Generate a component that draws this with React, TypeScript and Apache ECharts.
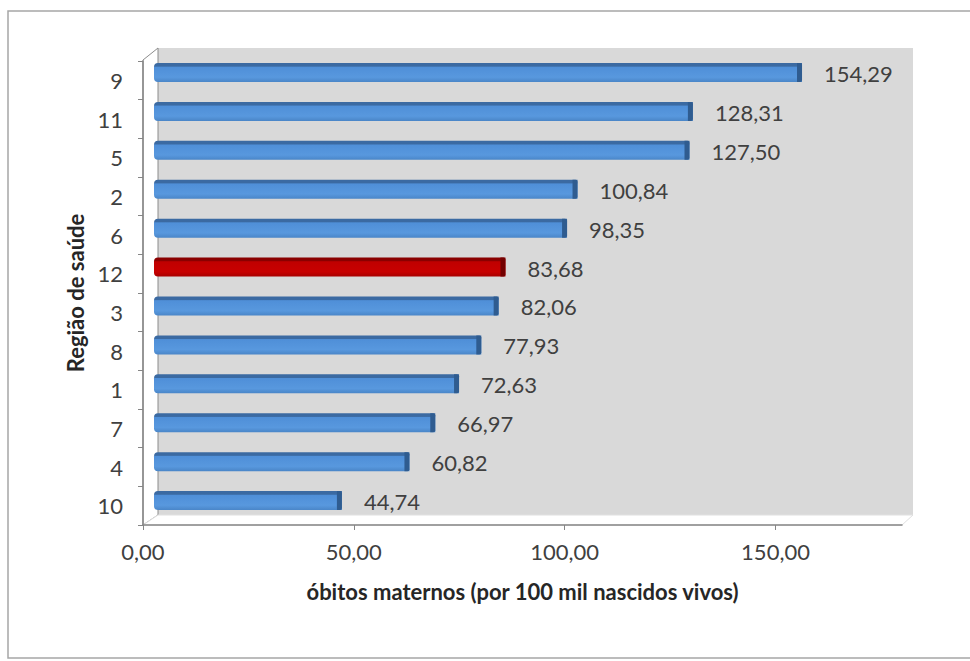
import React, { useEffect, useRef } from "react";
import * as echarts from "echarts";

const regions = ["9", "11", "5", "2", "6", "12", "3", "8", "1", "7", "4", "10"];
const rates = [154.29, 128.31, 127.5, 100.84, 98.35, 83.68, 82.06, 77.93, 72.63, 66.97, 60.82, 44.74];
const highlightRegion = "12";
const axisMax = 180;
const axisInterval = 50;
const xTitle = "óbitos maternos (por 100 mil nascidos vivos)";
const yTitle = "Região de saúde";

const fmt = (v: number) => v.toFixed(2).replace(".", ",");
const FONT = "Lato";
const TXT = "#404040";

export default function App() {
  const ref = useRef<HTMLDivElement>(null);
  useEffect(() => {
    if (!ref.current) return;
    const chart = echarts.init(ref.current, null, { renderer: "svg" });
    const option: any = {
      animation: false,
      backgroundColor: "#ffffff",
      textStyle: { fontFamily: FONT },
      graphic: [
        { type: "rect", z: 0, shape: { x: 8, y: 11, width: 975, height: 647 }, style: { fill: "#ffffff", stroke: "#a6a6a6", lineWidth: 1.5 } },
        { type: "rect", z: 0, shape: { x: 158, y: 48, width: 755, height: 467 }, style: { fill: "#d9d9d9" } },
        { type: "polygon", z: 0, shape: { points: [[143, 60], [158, 48], [158, 515], [143, 525]] }, style: { fill: "#ffffff", stroke: "#8c8c8c", lineWidth: 1 } },
        { type: "polygon", z: 0, shape: { points: [[143, 525], [158, 515], [913, 515], [902, 525]] }, style: { fill: "#ffffff", stroke: "#e0e0e0", lineWidth: 1 } },
      ],
      grid: [
        { left: 143, top: 61, width: 759, height: 464 },
        { left: 154, top: 53, width: 756, height: 467 },
      ],
      xAxis: [
        {
          gridIndex: 0,
          type: "value",
          min: 0,
          max: axisMax,
          interval: axisInterval,
          splitLine: { show: false },
          axisLine: { show: true, lineStyle: { color: "#868686", width: 1.5 } },
          axisTick: { show: true, length: 5, lineStyle: { color: "#868686" } },
          axisLabel: { formatter: (v: number) => fmt(v), showMaxLabel: false, margin: 15, fontSize: 22, color: TXT, fontFamily: FONT },
          name: xTitle,
          nameLocation: "middle",
          nameGap: 55,
          nameTextStyle: { fontSize: 22, fontWeight: "bold", color: "#262626", fontFamily: FONT },
        },
        { gridIndex: 1, type: "value", min: 0, max: axisMax, show: false },
      ],
      yAxis: [
        {
          gridIndex: 0,
          type: "category",
          data: regions,
          inverse: true,
          axisLine: { show: true, lineStyle: { color: "#868686", width: 1.5 } },
          axisTick: { show: true, length: 5, lineStyle: { color: "#868686" } },
          axisLabel: { margin: 20, fontSize: 22, color: TXT, fontFamily: FONT },
          name: yTitle,
          nameLocation: "middle",
          nameRotate: 90,
          nameGap: 55,
          nameTextStyle: { fontSize: 22, fontWeight: "bold", color: "#262626", fontFamily: FONT },
        },
        { gridIndex: 1, type: "category", data: regions, inverse: true, show: false },
      ],
      series: [
        {
          type: "custom",
          xAxisIndex: 1,
          yAxisIndex: 1,
          encode: { x: 0, y: 1 },
          data: rates.map((v, i) => [v, i]),
          renderItem: (params: any, api: any) => {
            const v = api.value(0);
            const c = api.value(1);
            const p0 = api.coord([0, c]);
            const p1 = api.coord([v, c]);
            const h = 19;
            const y = p0[1] - h / 2;
            const red = regions[params.dataIndex] === highlightRegion;
            const cols = red
              ? ["#8a0000", "#c00000", "#c80000", "#a80000", "#730000"]
              : ["#3b6aa2", "#4f8fd8", "#5898de", "#4a86c8", "#2f5c90"];
            const w = p1[0] - p0[0];
            return {
              type: "group",
              children: [
                {
                  type: "rect",
                  shape: { x: p0[0], y, width: w, height: h, r: [4, 0, 0, 4] },
                  style: {
                    fill: new echarts.graphic.LinearGradient(0, 0, 0, 1, [
                      { offset: 0, color: cols[0] },
                      { offset: 0.17, color: cols[0] },
                      { offset: 0.22, color: cols[1] },
                      { offset: 0.75, color: cols[2] },
                      { offset: 1, color: cols[3] },
                    ]),
                  },
                },
                {
                  type: "rect",
                  shape: { x: p1[0] - 5, y, width: 5, height: h, r: [0, 2, 2, 0] },
                  style: { fill: cols[4] },
                },
                {
                  type: "text",
                  style: {
                    text: fmt(v),
                    x: p1[0] + 22,
                    y: p0[1] + 1,
                    align: "left",
                    verticalAlign: "middle",
                    font: `22px ${FONT}`,
                    fill: TXT,
                  },
                },
              ],
            };
          },
        },
      ],
    };
    chart.setOption(option);
    return () => chart.dispose();
  }, []);
  return <div ref={ref} style={{ position: "fixed", left: 0, top: 0, width: 970, height: 661 }} />;
}
